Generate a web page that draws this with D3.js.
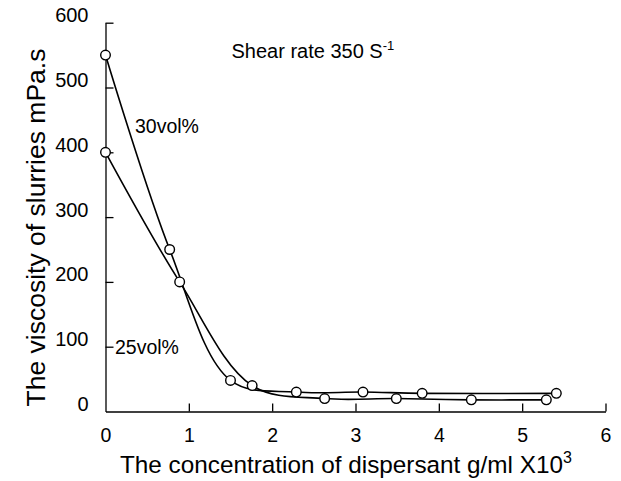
<!DOCTYPE html>
<html>
<head>
<meta charset="utf-8">
<script src="https://cdn.jsdelivr.net/npm/d3@7/dist/d3.min.js"></script>
<style>
  html, body { margin: 0; padding: 0; background: #fff; }
  svg text { font-family: "Liberation Sans", Arial, Helvetica, sans-serif; fill: #000; }
</style>
</head>
<body>
<svg id="chart" width="621" height="481"></svg>
<script>
// ---- data ----
const xTicks = [0, 1, 2, 3, 4, 5, 6];
const yTicks = [0, 100, 200, 300, 400, 500, 600];
const seriesNames = ["30vol%", "25vol%"];
const conc30 = [0, 0.77, 1.5, 2.29, 3.09, 3.80, 5.41];
const visc30 = [550, 250, 48, 30, 30, 28, 28];
const conc25 = [0, 0.89, 1.76, 2.63, 3.49, 4.39, 5.29];
const visc25 = [400, 200, 40, 20, 20, 18, 18];
const xTitle = "The concentration of dispersant g/ml X10";
const xTitleSup = "3";
const yTitle = "The viscosity of slurries mPa.s";
const note = "Shear rate 350 S";
const noteSup = "-1";

// ---- layout ----
const svg = d3.select("#chart");
const x = d3.scaleLinear().domain([0, 6]).range([105.5, 605.5]);
const y = d3.scaleLinear().domain([0, 600]).range([411.5, 22.7]);

const axisStroke = 1.3;

// Y axis
const gy = svg.append("g").attr("transform", `translate(${x(0)},0)`)
  .call(d3.axisLeft(y).tickValues(yTicks).tickFormat(d3.format("d"))
    .tickSizeInner(-8).tickSizeOuter(0).tickPadding(17));
gy.select(".domain").attr("stroke", "#000").attr("stroke-width", axisStroke);
gy.selectAll(".tick line").attr("stroke", "#000").attr("stroke-width", axisStroke);
gy.selectAll(".tick text").attr("font-size", 20).attr("dy", 0).attr("y", -1)
  .attr("font-family", "Liberation Sans, Arial, sans-serif");

// X axis
const gx = svg.append("g").attr("transform", `translate(0,${y(0)})`)
  .call(d3.axisBottom(x).tickValues(xTicks).tickFormat(d3.format("d"))
    .tickSizeInner(-8).tickSizeOuter(0).tickPadding(0));
gx.select(".domain").attr("stroke", "#000").attr("stroke-width", axisStroke);
gx.selectAll(".tick line").attr("stroke", "#000").attr("stroke-width", axisStroke);
gx.selectAll(".tick text").attr("font-size", 19.5).attr("dy", 0).attr("y", 30.5)
  .attr("font-family", "Liberation Sans, Arial, sans-serif");
gx.selectAll(".tick").filter(d => d === 0).select("line").remove();
gy.selectAll(".tick").filter(d => d === 0).select("line").remove();

// lines
const line = d3.line().x(d => x(d[0])).y(d => y(d[1])).curve(d3.curveCatmullRom.alpha(0.5));
const s30 = conc30.map((c, i) => [c, visc30[i]]);
const s25 = conc25.map((c, i) => [c, visc25[i]]);
[s30, s25].forEach(s => {
  svg.append("path").attr("d", line(s)).attr("fill", "none")
    .attr("stroke", "#000").attr("stroke-width", 1.6);
});
[s30, s25].forEach(s => {
  svg.append("g").selectAll("circle").data(s).join("circle")
    .attr("cx", d => x(d[0])).attr("cy", d => y(d[1])).attr("r", 4.8)
    .attr("fill", "#fff").attr("stroke", "#000").attr("stroke-width", 1.4);
});

// series labels
svg.append("text").attr("x", 135).attr("y", 132.7).attr("font-size", 19.5).text(seriesNames[0]);
svg.append("text").attr("x", 115).attr("y", 354).attr("font-size", 19.5).text(seriesNames[1]);

// note
const nt = svg.append("text").attr("x", 231.5).attr("y", 57.5).attr("font-size", 20);
nt.append("tspan").text(note);
nt.append("tspan").attr("font-size", 13).attr("dy", -8).text(noteSup);

// axis titles
const xt = svg.append("text").attr("x", 120).attr("y", 472.7).attr("font-size", 24.3);
xt.append("tspan").text(xTitle);
xt.append("tspan").attr("font-size", 16).attr("dy", -10).text(xTitleSup);

svg.append("text").attr("transform", `translate(45,227.5) rotate(-90)`)
  .attr("text-anchor", "middle").attr("font-size", 26.5).text(yTitle);
</script>
</body>
</html>
